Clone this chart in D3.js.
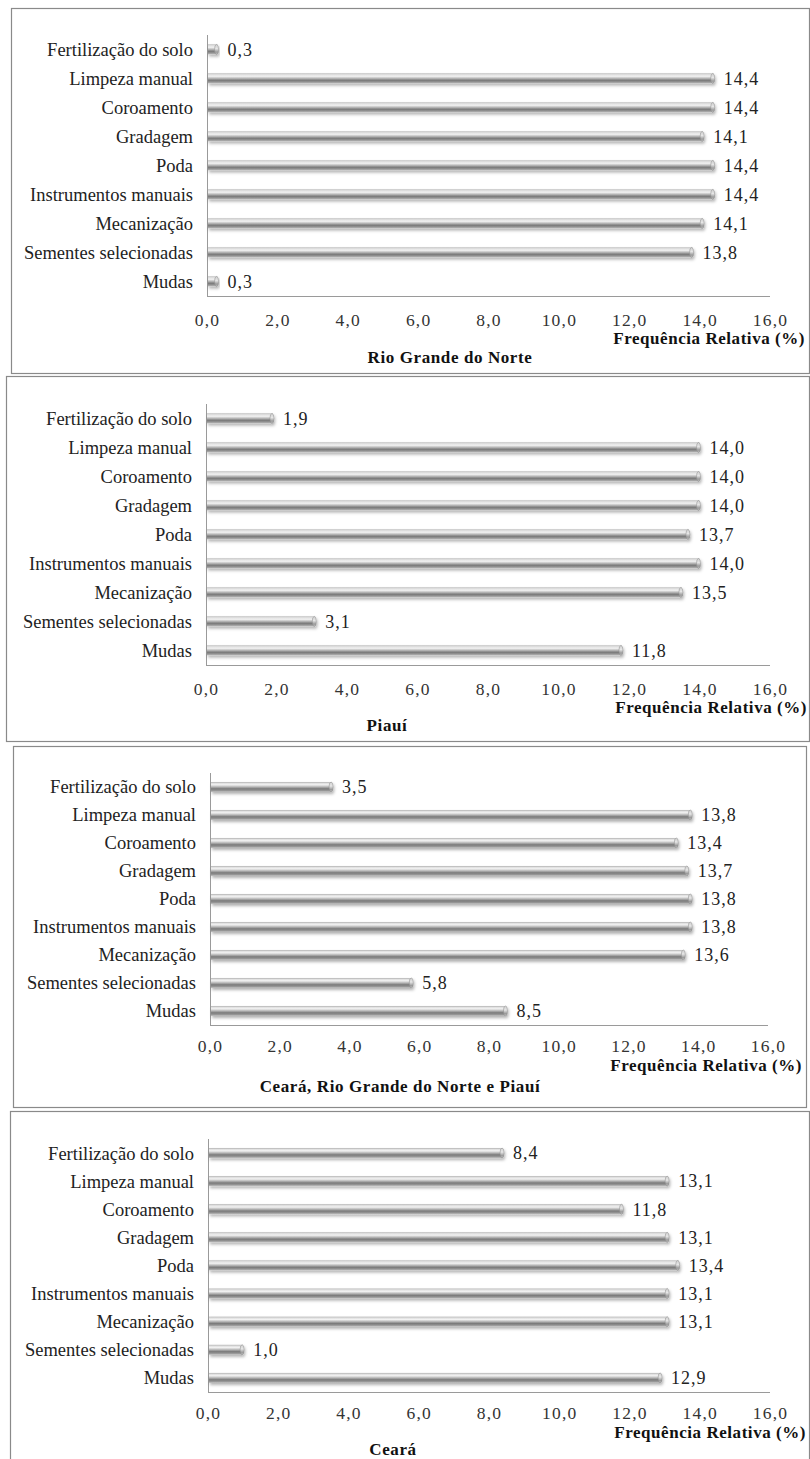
<!DOCTYPE html>
<html>
<head>
<meta charset="utf-8">
<script src="https://cdn.jsdelivr.net/npm/d3@7/dist/d3.min.js"></script>
<style>
  html, body { margin: 0; padding: 0; background: #fff; }
  svg { display: block; }
  svg text { font-family: "Liberation Serif", "Times New Roman", serif; }
</style>
</head>
<body>
<svg id="chart" width="810" height="1459"></svg>
<script>
// ---- DATA ----
const categories = ["Fertilização do solo", "Limpeza manual", "Coroamento", "Gradagem", "Poda",
  "Instrumentos manuais", "Mecanização", "Sementes selecionadas", "Mudas"];
const valuesRN = [0.3, 14.4, 14.4, 14.1, 14.4, 14.4, 14.1, 13.8, 0.3];
const valuesPI = [1.9, 14.0, 14.0, 14.0, 13.7, 14.0, 13.5, 3.1, 11.8];
const valuesAll = [3.5, 13.8, 13.4, 13.7, 13.8, 13.8, 13.6, 5.8, 8.5];
const valuesCE = [8.4, 13.1, 11.8, 13.1, 13.4, 13.1, 13.1, 1.0, 12.9];
const tickValues = [0, 2, 4, 6, 8, 10, 12, 14, 16];
const axisTitle = "Frequência Relativa (%)";
const panelTitles = ["Rio Grande do Norte", "Piauí", "Ceará, Rio Grande do Norte e Piauí", "Ceará"];
const panelValues = [valuesRN, valuesPI, valuesAll, valuesCE];

// ---- LAYOUT ----
const layouts = [
  {bx0: 11, bx1: 809, by0: 8, by1: 373, x0: 207, x1: 770, top: 35, bottom: 296, tickY: 320, freqY: 338, freqX: 805, subX: 450, subY: 357},
  {bx0: 6, bx1: 809, by0: 376, by1: 741, x0: 206, x1: 770, top: 404, bottom: 665, tickY: 689, freqY: 707, freqX: 807, subX: 387, subY: 725},
  {bx0: 13, bx1: 806, by0: 746, by1: 1107, x0: 210, x1: 768, top: 773, bottom: 1025, tickY: 1046, freqY: 1065, freqX: 802, subX: 400, subY: 1086},
  {bx0: 10, bx1: 809, by0: 1111, by1: 1475, x0: 208, x1: 770, top: 1139, bottom: 1392, tickY: 1413, freqY: 1432, freqX: 806, subX: 393, subY: 1449}
];

const fmt = v => d3.format(".1f")(v).replace(".", ",");

const svg = d3.select("#chart");
const defs = svg.append("defs");

const grad = defs.append("linearGradient").attr("id", "barGrad")
  .attr("x1", 0).attr("y1", 0).attr("x2", 0).attr("y2", 1);
[[0, "#a8a8a8"], [0.1, "#dcdcdc"], [0.28, "#f2f2f2"], [0.48, "#b8b8b8"], [0.68, "#7a7a7a"], [0.85, "#959595"], [1, "#c4c4c4"]]
  .forEach(([o, c]) => grad.append("stop").attr("offset", o).attr("stop-color", c));

const capGrad = defs.append("linearGradient").attr("id", "capGrad")
  .attr("x1", 0).attr("y1", 0).attr("x2", 0).attr("y2", 1);
[[0, "#cfcfcf"], [0.4, "#e6e6e6"], [0.75, "#9c9c9c"], [1, "#bdbdbd"]]
  .forEach(([o, c]) => capGrad.append("stop").attr("offset", o).attr("stop-color", c));

const filt = defs.append("filter").attr("id", "shadow").attr("x", "-5%").attr("y", "-50%").attr("width", "115%").attr("height", "250%");
filt.append("feDropShadow").attr("dx", 1).attr("dy", 2).attr("stdDeviation", 1.4)
  .attr("flood-color", "#000").attr("flood-opacity", 0.3);

layouts.forEach((L, i) => {
  const vals = panelValues[i];
  const g = svg.append("g");

  g.append("rect")
    .attr("x", L.bx0 + 0.5).attr("y", L.by0 + 0.5)
    .attr("width", L.bx1 - L.bx0).attr("height", L.by1 - L.by0)
    .attr("fill", "none").attr("stroke", "#8a8a8a").attr("stroke-width", 1.2);

  const x = d3.scaleLinear().domain([0, 16]).range([L.x0, L.x1]);
  const y = d3.scaleBand().domain(categories).range([L.top, L.bottom]).paddingInner(0.6).paddingOuter(0.3);

  g.append("line").attr("x1", L.x0 + 0.5).attr("x2", L.x0 + 0.5).attr("y1", L.top).attr("y2", L.bottom)
    .attr("stroke", "#9a9a9a").attr("stroke-width", 1);
  g.append("line").attr("x1", L.x0).attr("x2", L.x1).attr("y1", L.bottom + 0.5).attr("y2", L.bottom + 0.5)
    .attr("stroke", "#9a9a9a").attr("stroke-width", 1);

  const rows = categories.map((c, k) => ({c, v: vals[k]}));
  const bars = g.selectAll("g.bar").data(rows).join("g").attr("class", "bar")
    .attr("filter", "url(#shadow)");
  const bh = 10;
  bars.append("rect")
    .attr("x", L.x0 + 1)
    .attr("y", d => y(d.c) + y.bandwidth() / 2 - bh / 2)
    .attr("width", d => Math.max(2, x(d.v) - L.x0 - 1))
    .attr("height", bh)
    .attr("fill", "url(#barGrad)");
  bars.append("ellipse")
    .attr("cx", d => x(d.v) - 1)
    .attr("cy", d => y(d.c) + y.bandwidth() / 2)
    .attr("rx", 2).attr("ry", bh / 2)
    .attr("fill", "url(#capGrad)").attr("stroke", "#8a8a8a").attr("stroke-width", 0.5);

  g.selectAll("text.val").data(rows).join("text").attr("class", "val")
    .attr("x", d => x(d.v) + 10)
    .attr("y", d => y(d.c) + y.bandwidth() / 2)
    .attr("dy", "0.35em")
    .attr("font-size", 18).attr("letter-spacing", 1).attr("fill", "#222")
    .text(d => fmt(d.v));

  g.selectAll("text.cat").data(categories).join("text").attr("class", "cat")
    .attr("x", L.x0 - 14)
    .attr("y", d => y(d) + y.bandwidth() / 2)
    .attr("dy", "0.35em")
    .attr("text-anchor", "end")
    .attr("font-size", 18.5).attr("fill", "#222")
    .text(d => d);

  const axis = d3.axisBottom(x).tickValues(tickValues).tickFormat(fmt).tickSize(0).tickPadding(0);
  const ag = g.append("g").attr("transform", `translate(0,${L.tickY})`).call(axis);
  ag.select(".domain").remove();
  ag.attr("font-family", null).attr("font-size", null);
  ag.selectAll("text").attr("font-size", 17.5).attr("letter-spacing", 1.2).attr("fill", "#333").attr("dy", "0.35em").attr("y", 0);

  g.append("text").attr("x", L.freqX).attr("y", L.freqY).attr("dy", "0.35em")
    .attr("text-anchor", "end").attr("font-size", 17).attr("font-weight", "bold")
    .attr("letter-spacing", 0.55).attr("fill", "#111").text(axisTitle);

  g.append("text").attr("x", L.subX).attr("y", L.subY).attr("dy", "0.35em")
    .attr("text-anchor", "middle").attr("font-size", 17).attr("font-weight", "bold")
    .attr("letter-spacing", 0.6).attr("fill", "#111").text(panelTitles[i]);
});
</script>
</body>
</html>
